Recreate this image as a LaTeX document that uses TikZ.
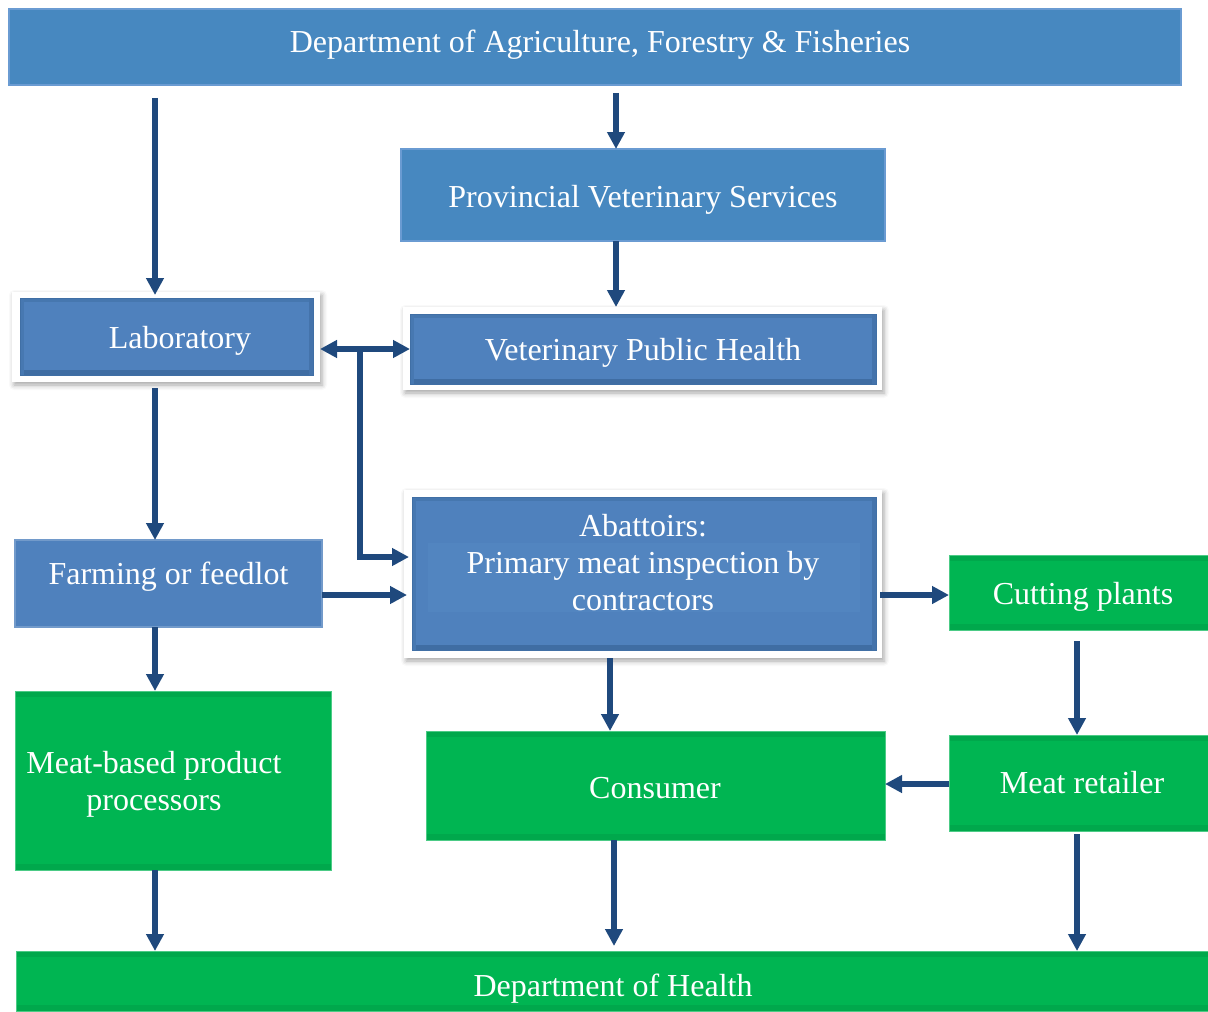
\documentclass[tikz,border=0pt]{standalone}
\usepackage{fontspec}
\setmainfont{Liberation Serif}
\usetikzlibrary{arrows.meta,shadows.blur,calc}
\definecolor{arrowc}{HTML}{1F497D}
\definecolor{topblue}{HTML}{4788C0}
\definecolor{topedge}{HTML}{6A9BD2}
\definecolor{bblue}{HTML}{4F81BD}
\definecolor{bbluedark}{HTML}{3C6A9F}
\definecolor{bbluelight}{HTML}{5285C0}
\definecolor{gfill}{HTML}{00B552}
\definecolor{gband}{HTML}{00A84C}
\begin{document}
\begin{tikzpicture}[x=0.5pt,y=-0.5pt,
  every node/.style={inner sep=0pt, outer sep=0pt},
  flatblue/.style={rectangle, fill=topblue, draw=topedge, line width=0.6pt},
  bevelblue/.style={rectangle, fill=bblue, draw=bbluedark!80!bblue, line width=0.5pt,
    path picture={
      \fill[bbluedark!85!bblue] ([yshift=2.5pt]path picture bounding box.south west) rectangle (path picture bounding box.south east);
      \fill[bbluedark!45!bblue] (path picture bounding box.north west) rectangle ([yshift=-2pt]path picture bounding box.north east);
      \fill[bbluedark!60!bblue] (path picture bounding box.north east) rectangle ([xshift=-2pt]path picture bounding box.south east);
      \fill[bbluedark!40!bblue] (path picture bounding box.north west) rectangle ([xshift=2pt]path picture bounding box.south west);
    }},
  frame/.style={rectangle, fill=white,
    blur shadow={shadow xshift=1pt, shadow yshift=-1.5pt, shadow blur radius=2.5pt, shadow opacity=35}},
  greenbox/.style={rectangle, fill=gfill, draw=gfill!70!white, line width=0.4pt,
    path picture={
      \fill[gband] (path picture bounding box.north west) rectangle ([yshift=-3pt]path picture bounding box.north east);
      \fill[gband] ([yshift=3pt]path picture bounding box.south west) rectangle (path picture bounding box.south east);
    }},
  txtm/.style={text=white, font=\fontsize{16pt}{18.5pt}\selectfont, align=center},
  txt/.style={txtm, text height=11.2pt, text depth=3.2pt},
  arr/.style={draw=arrowc, line width=2.6pt, -{Triangle[width=8.5pt,length=8.5pt]}},
  darr/.style={draw=arrowc, line width=2.6pt, {Triangle[width=8.5pt,length=8.5pt]}-{Triangle[width=8.5pt,length=8.5pt]}}
]
\useasboundingbox (0,0) rectangle (1208,1011);

% column / row helper coordinates
\coordinate (xA) at (155,0);
\coordinate (xB) at (616,0);
\coordinate (xC) at (610,0);
\coordinate (xD) at (614,0);
\coordinate (xE) at (1077,0);
\coordinate (yF) at (0,595);
\coordinate (yG) at (0,557);
\coordinate (yH) at (0,784);
\coordinate (jn) at (360,349);

% boxes
\node[flatblue, minimum width=586pt, minimum height=38pt] (daff) at (595,47) {};
\node[txt] (daffT) at (600,45) {Department of Agriculture, Forestry \& Fisheries};

\node[flatblue, minimum width=242pt, minimum height=46pt] (pvs) at (643,195) {};
\node[txt] (pvsT) at (643,199) {Provincial Veterinary Services};

\node[frame, minimum width=154pt, minimum height=45pt] (labf) at (166,337) {};
\node[bevelblue, minimum width=146.5pt, minimum height=38.5pt] (lab) at (166.5,336.5) {};
\node[txt] (labT) at (180,340) {Laboratory};

\node[frame, minimum width=239.5pt, minimum height=41.5pt] (vphf) at (642.5,348.5) {};
\node[bevelblue, minimum width=233pt, minimum height=35pt] (vph) at (643,349) {};
\node[txt] (vphT) at (643,352) {Veterinary Public Health};

\node[flatblue, fill=bblue, draw=bblue!80!white, minimum width=153.5pt, minimum height=43.5pt] (farm) at (168.5,583.5) {};
\node[txt] (farmT) at (168.5,576) {Farming or feedlot};

\node[frame, minimum width=239pt, minimum height=84pt] (abf) at (643,574) {};
\node[bevelblue, minimum width=232pt, minimum height=76.5pt] (ab) at (644,573.5) {};
\node[rectangle, fill=bbluelight, minimum width=216pt, minimum height=34.5pt] (abin) at (644,577.5) {};
\node[txtm] (abT) at (643,563) {Abattoirs:\\Primary meat inspection by\\contractors};

\node[greenbox, minimum width=129.5pt, minimum height=37.5pt] (cut) at (1078.5,592.5) {};
\node[txt] (cutT) at (1083,596) {Cutting plants};

\node[greenbox, minimum width=158pt, minimum height=89.5pt] (mbp) at (173,780.5) {};
\node[txtm] (mbpT) at (154,784) {Meat-based product\\processors};

\node[greenbox, minimum width=229.5pt, minimum height=54.5pt] (cons) at (655.5,785.5) {};
\node[txt] (consT) at (655,790) {Consumer};

\node[greenbox, minimum width=129.5pt, minimum height=48pt] (ret) at (1078.5,783) {};
\node[txt] (retT) at (1082,785) {Meat retailer};

\node[greenbox, minimum width=596pt, minimum height=30pt] (doh) at (612,981) {};
\node[txt] (dohT) at (613,988) {Department of Health};

% connectors
\draw[arr, shorten <=6.5pt, shorten >=-1.5pt] (daff.south -| xA) -- (labf.north -| xA);
\draw[arr, shorten <=4pt] (daff.south -| xB) -- (pvs.north -| xB);
\draw[arr] (pvs.south -| xB) -- (vphf.north -| xB);
\draw[darr] (labf.east |- jn) -- (vph.west |- jn);
\draw[arr] (jn) -- (jn |- yG) -- ([xshift=-1.5pt]ab.west |- yG);
\draw[arr, shorten <=3pt] (labf.south -| xA) -- (farm.north -| xA);
\draw[arr] (farm.east |- yF) -- ([xshift=-2.5pt]ab.west |- yF);
\draw[arr, shorten <=-1pt] (abf.east |- yF) -- (cut.west |- yF);
\draw[arr] (farm.south -| xA) -- (mbp.north -| xA);
\draw[arr] (abf.south -| xC) -- (cons.north -| xC);
\draw[arr, shorten <=5.5pt] (cut.south -| xE) -- (ret.north -| xE);
\draw[arr] (ret.west |- yH) -- (cons.east |- yH);
\draw[arr] (mbp.south -| xA) -- (doh.north -| xA);
\draw[arr, shorten >=2.5pt] (cons.south -| xD) -- (doh.north -| xD);
\draw[arr, shorten <=1.5pt] (ret.south -| xE) -- (doh.north -| xE);
\end{tikzpicture}
\end{document}
